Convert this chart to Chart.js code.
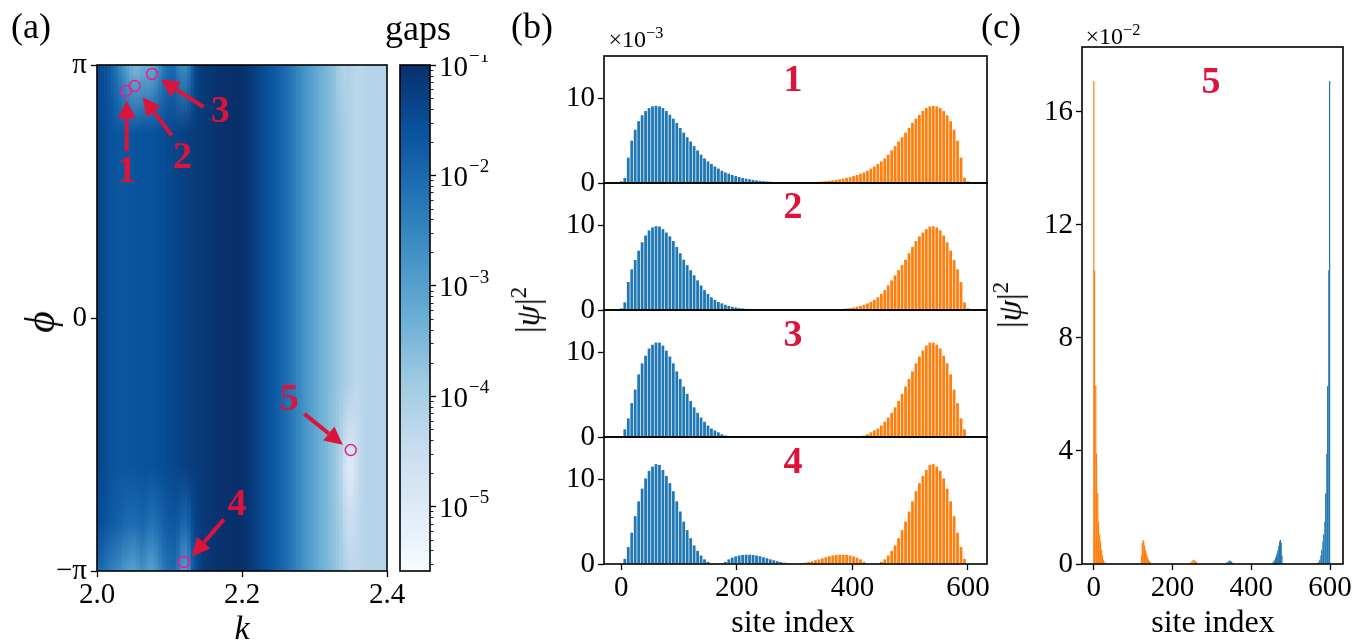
<!DOCTYPE html>
<html>
<head>
<meta charset="utf-8">
<script src="https://cdn.jsdelivr.net/npm/chart.js@4.4.1/dist/chart.umd.min.js"></script>
<style>
  html, body { margin: 0; padding: 0; background: #fff; }
  #fig { position: relative; width: 1369px; height: 644px; overflow: hidden;
         font-family: "Liberation Serif", serif; color: #000; }
  #fig canvas { position: absolute; }
  .t { position: absolute; white-space: nowrap; line-height: 1; transform: translate(-50%, -50%); }
  .rot { transform: translate(-50%, -50%) rotate(-90deg); }
  .num { font-weight: bold; font-size: 38px; color: #dc143c; }
  sup { font-size: 0.68em; vertical-align: 0.55em; line-height: 0; }
</style>
</head>
<body>
<div id="fig">
  <canvas id="heat" width="412" height="576" style="left:0px; top:40px"></canvas>
  <canvas id="cbar" width="105" height="526" style="left:395px; top:55px"></canvas>
  <canvas id="w1" width="478" height="177" style="left:534px; top:31px"></canvas>
  <canvas id="w2" width="478" height="177" style="left:534px; top:158px"></canvas>
  <canvas id="w3" width="478" height="177" style="left:534px; top:285px"></canvas>
  <canvas id="w4" width="478" height="197" style="left:534px; top:412px"></canvas>
  <canvas id="w5" width="356" height="587" style="left:1012px; top:22px"></canvas>

  <div class="t" style="left:31px; top:26px; font-size:36px">(a)</div>
  <div class="t" style="left:532px; top:26px; font-size:36px">(b)</div>
  <div class="t" style="left:1001px; top:26px; font-size:36px">(c)</div>
  <div class="t" style="left:418px; top:28px; font-size:36px">gaps</div>
  <div class="t rot" style="left:40px; top:322px; font-size:42px; font-style:italic">ϕ</div>
  <div class="t" style="left:242px; top:628px; font-size:34px; font-style:italic">k</div>
  <div class="t rot" style="left:528px; top:310px; font-size:34px">|<i>ψ</i>|<sup>2</sup></div>
  <div class="t rot" style="left:1010px; top:305px; font-size:34px">|<i>ψ</i>|<sup>2</sup></div>
  <div class="t" style="left:636px; top:39px; font-size:24px">×10<sup>−3</sup></div>
  <div class="t" style="left:1113px; top:36px; font-size:24px">×10<sup>−2</sup></div>
  <div class="t" style="left:793px; top:621px; font-size:32px">site index</div>
  <div class="t" style="left:1213px; top:621px; font-size:32px">site index</div>
  <div class="t num" style="left:793px; top:78px">1</div>
  <div class="t num" style="left:793px; top:205px">2</div>
  <div class="t num" style="left:793px; top:333px">3</div>
  <div class="t num" style="left:793px; top:460px">4</div>
  <div class="t num" style="left:1211px; top:80px">5</div>
</div>
<script>
// ---------- panel (a): spectral gap over (k, phi), log10 of the gap ----------
const kTicks = [2.0, 2.2, 2.4];
const phiTicks = [-Math.PI, 0, Math.PI];
const phiTickLabels = ['−π', '0', 'π'];
const kCenters = Array.from({ length: 80 }, (_, i) => 2.0 + 0.005 * (i + 0.5));
// phi rows at which the columns below are sampled
const phiKnots = [Math.PI, 2.3, -0.8, -1.85, -2.55, -Math.PI];

const logGapMid = [
  -1.40, -1.42, -1.48, -1.55, -1.62, -1.65, -1.66, -1.66, -1.65, -1.64,
  -1.62, -1.60, -1.60, -1.58, -1.57, -1.56, -1.55, -1.52, -1.50, -1.46,
  -1.42, -1.38, -1.35, -1.30, -1.27, -1.25, -1.22, -1.20, -1.18, -1.15,
  -1.12, -1.10, -1.08, -1.06, -1.04, -1.02, -1.01, -1.00, -1.00, -1.01,
  -1.03, -1.08, -1.15, -1.24, -1.33, -1.42, -1.50, -1.59, -1.68, -1.78,
  -1.88, -1.99, -2.10, -2.23, -2.36, -2.50, -2.63, -2.76, -2.89, -3.02,
  -3.15, -3.26, -3.37, -3.47, -3.57, -3.67, -3.77, -3.87, -3.97, -4.08,
  -4.18, -4.28, -4.30, -4.25, -4.21, -4.19, -4.19, -4.19, -4.19, -4.19
];
const logGapTop = [
  -1.45, -1.50, -1.60, -1.75, -1.95, -2.20, -2.50, -2.80, -3.10, -3.35,
  -3.50, -3.50, -3.35, -3.30, -3.30, -3.20, -2.90, -2.60, -2.30, -2.10,
  -2.00, -2.05, -2.40, -2.60, -2.60, -2.30, -1.80, -1.40, -1.25, -1.16,
  -1.12, -1.10, -1.08, -1.06, -1.04, -1.02, -1.01, -1.00, -1.00, -1.01,
  -1.03, -1.08, -1.15, -1.24, -1.33, -1.42, -1.50, -1.59, -1.68, -1.78,
  -1.88, -1.99, -2.10, -2.23, -2.36, -2.50, -2.63, -2.76, -2.89, -3.02,
  -3.15, -3.26, -3.37, -3.47, -3.57, -3.67, -3.90, -4.08, -4.18, -4.12,
  -4.18, -4.28, -4.30, -4.25, -4.21, -4.19, -4.19, -4.19, -4.19, -4.19
];
const logGapLow = [
  -1.40, -1.42, -1.48, -1.55, -1.62, -1.65, -1.66, -1.66, -1.65, -1.64,
  -1.62, -1.60, -1.60, -1.58, -1.57, -1.56, -1.55, -1.52, -1.50, -1.46,
  -1.42, -1.38, -1.35, -1.30, -1.27, -1.25, -1.22, -1.20, -1.18, -1.15,
  -1.12, -1.10, -1.08, -1.06, -1.04, -1.02, -1.01, -1.00, -1.00, -1.01,
  -1.03, -1.08, -1.15, -1.24, -1.33, -1.42, -1.50, -1.59, -1.68, -1.78,
  -1.88, -1.99, -2.10, -2.23, -2.36, -2.50, -2.63, -2.76, -2.89, -3.02,
  -3.15, -3.26, -3.37, -3.47, -3.62, -3.76, -3.95, -4.25, -4.65, -4.95,
  -4.95, -4.65, -4.40, -4.27, -4.21, -4.19, -4.19, -4.19, -4.19, -4.19
];
const logGapLower = [
  -1.50, -1.55, -1.62, -1.70, -1.76, -1.82, -1.88, -1.96, -2.02, -2.06,
  -2.06, -2.00, -1.95, -2.00, -2.12, -2.16, -2.08, -1.96, -1.85, -1.76,
  -1.72, -1.70, -1.76, -1.92, -1.96, -1.80, -1.50, -1.32, -1.23, -1.16,
  -1.12, -1.10, -1.08, -1.06, -1.04, -1.02, -1.01, -1.00, -1.00, -1.01,
  -1.03, -1.08, -1.15, -1.24, -1.33, -1.42, -1.50, -1.59, -1.68, -1.78,
  -1.88, -1.99, -2.10, -2.23, -2.36, -2.50, -2.63, -2.76, -2.89, -3.02,
  -3.15, -3.26, -3.37, -3.47, -3.59, -3.70, -3.84, -4.02, -4.30, -4.48,
  -4.50, -4.42, -4.32, -4.25, -4.21, -4.19, -4.19, -4.19, -4.19, -4.19
];
const logGapBottom = [
  -2.00, -2.05, -2.20, -2.35, -2.45, -2.55, -2.65, -2.80, -2.90, -3.00,
  -3.00, -2.85, -2.70, -2.80, -3.00, -3.00, -2.80, -2.55, -2.30, -2.15,
  -2.05, -2.05, -2.30, -2.80, -2.90, -2.55, -1.85, -1.50, -1.30, -1.18,
  -1.12, -1.10, -1.08, -1.06, -1.04, -1.02, -1.01, -1.00, -1.00, -1.01,
  -1.03, -1.08, -1.15, -1.24, -1.33, -1.42, -1.50, -1.59, -1.68, -1.78,
  -1.88, -1.99, -2.10, -2.23, -2.36, -2.50, -2.63, -2.76, -2.89, -3.02,
  -3.15, -3.26, -3.37, -3.47, -3.57, -3.67, -3.80, -3.95, -4.10, -4.22,
  -4.30, -4.32, -4.30, -4.25, -4.21, -4.19, -4.19, -4.19, -4.19, -4.19
];

// marked points and their arrows
const markNames = ['1', '2', '3', '4', '5'];
const markK = [2.040, 2.052, 2.076, 2.120, 2.350];
const markPhi = [2.82, 2.88, 3.03, -3.03, -1.64];
const nameK = [2.041, 2.118, 2.170, 2.193, 2.265];
const namePhi = [1.81, 1.99, 2.55, -2.33, -1.02];
const arrowFromK = [2.041, 2.103, 2.147, 2.175, 2.286];
const arrowFromPhi = [2.07, 2.27, 2.62, -2.50, -1.19];
const arrowToK = [2.041, 2.063, 2.088, 2.131, 2.339];
const arrowToPhi = [2.70, 2.74, 2.96, -2.96, -1.575];

// colour bar
const cbarMin = 2.6e-6, cbarMax = 1e-1;
const cbarTickValues = [1e-5, 1e-4, 1e-3, 1e-2, 1e-1];
const cbarTickExps = ['−5', '−4', '−3', '−2', '−1'];

// ---------- panel (b): |psi|^2 (x 1e-3), sampled every 6 sites ----------
const siteTicks = [0, 200, 400, 600];
const waveTicks = [0, 10];
const blueSites = Array.from({ length: 50 }, (_, i) => 6 * i);
const orangeSites = Array.from({ length: 50 }, (_, i) => 306 + 6 * i);

const blue1 = [0.2, 0.6, 3.0, 5.0, 6.3, 7.3, 8.0, 8.5, 8.85, 9.05, 9.1, 9.05, 8.85, 8.5, 8.05, 7.6, 7.1, 6.5, 5.95, 5.4,
  4.9, 4.35, 3.85, 3.35, 2.9, 2.55, 2.25, 1.95, 1.7, 1.45, 1.25, 1.1, 0.95, 0.82, 0.7, 0.6, 0.51, 0.44, 0.37, 0.31,
  0.26, 0.22, 0.18, 0.15, 0.12, 0.1, 0.08, 0.06, 0.04, 0.03];
const orange1 = [0.03, 0.04, 0.06, 0.08, 0.1, 0.12, 0.15, 0.18, 0.22, 0.26, 0.31, 0.37, 0.44, 0.51, 0.6, 0.7, 0.82, 0.95, 1.1, 1.25,
  1.45, 1.7, 1.95, 2.25, 2.55, 2.9, 3.35, 3.85, 4.35, 4.9, 5.4, 5.95, 6.5, 7.1, 7.6, 8.05, 8.5, 8.85, 9.05, 9.1,
  9.05, 8.85, 8.5, 8.0, 7.3, 6.3, 5.0, 3.0, 0.6, 0.2];
const blue2 = [0.2, 0.9, 3.3, 4.8, 5.9, 7.0, 8.0, 8.8, 9.4, 9.75, 9.9, 9.85, 9.55, 9.15, 8.7, 8.15, 7.45, 6.7, 5.95, 5.3,
  4.7, 4.1, 3.5, 2.9, 2.35, 1.9, 1.5, 1.2, 0.95, 0.78, 0.62, 0.48, 0.38, 0.3, 0.23, 0.18, 0.14, 0.1, 0.07, 0.04,
  0, 0, 0, 0, 0, 0, 0, 0, 0, 0];
const orange2 = [0, 0, 0, 0, 0, 0, 0, 0, 0, 0, 0.04, 0.07, 0.1, 0.14, 0.18, 0.23, 0.3, 0.38, 0.48, 0.62,
  0.78, 0.95, 1.2, 1.5, 1.9, 2.35, 2.9, 3.5, 4.1, 4.7, 5.3, 5.95, 6.7, 7.45, 8.15, 8.7, 9.15, 9.55, 9.85, 9.9,
  9.75, 9.4, 8.8, 8.0, 7.0, 5.9, 4.8, 3.3, 0.9, 0.2];
const blue3 = [0.1, 0.9, 2.2, 4.0, 5.6, 7.4, 8.7, 9.6, 10.45, 10.9, 11.15, 11.15, 10.8, 10.2, 9.5, 8.7, 7.75, 6.85, 5.95, 5.1,
  4.25, 3.5, 2.85, 2.3, 1.8, 1.35, 1.0, 0.78, 0.55, 0.32, 0.18, 0.08, 0, 0, 0, 0, 0, 0, 0, 0,
  0, 0, 0, 0, 0, 0, 0, 0, 0, 0];
const orange3 = [0, 0, 0, 0, 0, 0, 0, 0, 0, 0, 0, 0, 0, 0, 0, 0, 0, 0, 0.08, 0.18,
  0.32, 0.55, 0.78, 1.0, 1.35, 1.8, 2.3, 2.85, 3.5, 4.25, 5.1, 5.95, 6.85, 7.75, 8.7, 9.5, 10.2, 10.8, 11.15, 11.15,
  10.9, 10.45, 9.6, 8.7, 7.4, 5.6, 4.0, 2.2, 0.9, 0.1];
const blue4 = [0.1, 0.6, 2.0, 3.7, 5.65, 7.4, 8.9, 10.1, 11.0, 11.5, 11.8, 11.7, 11.1, 10.4, 9.55, 8.6, 7.4, 6.2, 5.0, 4.0,
  3.05, 2.2, 1.55, 1.0, 0.55, 0.25, 0.1, 0.04, 0.02, 0.08, 0.25, 0.55, 0.75, 0.9, 1.0, 1.07, 1.1, 1.1, 1.06, 1.0,
  0.92, 0.8, 0.68, 0.55, 0.44, 0.33, 0.24, 0.16, 0.1, 0.05];
const orange4 = [0.05, 0.1, 0.16, 0.24, 0.33, 0.44, 0.55, 0.68, 0.8, 0.92, 1.0, 1.06, 1.1, 1.1, 1.07, 1.0, 0.9, 0.75, 0.55, 0.25,
  0.08, 0.02, 0.04, 0.1, 0.25, 0.55, 1.0, 1.55, 2.2, 3.05, 4.0, 5.0, 6.2, 7.4, 8.6, 9.55, 10.4, 11.1, 11.7, 11.8,
  11.5, 11.0, 10.1, 8.9, 7.4, 5.65, 3.7, 2.0, 0.6, 0.1];

// ---------- panel (c): |psi|^2 (x 1e-2), point 5 ----------
const edgeTicks = [0, 4, 8, 12, 16];
const cOrangeSites = [0, 2, 5, 7, 10, 12, 15, 17, 20, 22, 25, 29,
  121, 123, 125, 127, 129, 131, 133, 135, 137, 139, 141, 143, 145, 148,
  246, 249, 252, 255, 258, 261, 264];
const cOrangeVals = [17.1, 10.4, 6.3, 3.9, 2.5, 1.5, 1.05, 0.8, 0.5, 0.3, 0.15, 0.06,
  0.3, 0.75, 0.85, 0.8, 0.65, 0.5, 0.4, 0.3, 0.22, 0.15, 0.1, 0.06, 0.04, 0.02,
  0.05, 0.1, 0.15, 0.14, 0.11, 0.07, 0.03];
const cBlueSites = [335, 338, 341, 344, 347, 350, 353, 356,
  452, 454, 456, 458, 460, 462, 464, 466, 468, 470, 472, 474, 476, 478,
  570, 574, 577, 579, 582, 584, 587, 589, 592, 594, 597, 599];
const cBlueVals = [0.02, 0.05, 0.09, 0.12, 0.11, 0.08, 0.04, 0.02,
  0.02, 0.04, 0.06, 0.1, 0.15, 0.22, 0.3, 0.4, 0.5, 0.65, 0.8, 0.85, 0.75, 0.3,
  0.06, 0.15, 0.3, 0.5, 0.8, 1.05, 1.5, 2.5, 3.9, 6.3, 10.4, 17.1];

// ---------- styling helpers ----------
const SERIF = 'Liberation Serif';
const BLUE = '#1f77b4', ORANGE = '#ff7f0e', CRIMSON = '#dc143c', PINK = '#f0198c';
const BLUES = [[247, 251, 255], [222, 235, 247], [198, 219, 239], [158, 202, 225], [107, 174, 214],
  [66, 146, 198], [33, 113, 181], [8, 81, 156], [8, 48, 107]];
const logMin = Math.log10(cbarMin), logMax = Math.log10(cbarMax);

function bluesAt(t) {
  t = Math.min(1, Math.max(0, t));
  const s = t * 8, i = Math.min(7, Math.floor(s)), f = s - i;
  const a = BLUES[i], b = BLUES[i + 1];
  return 'rgb(' + a.map((v, j) => Math.round(v + (b[j] - v) * f)).join(',') + ')';
}
function gapColor(lg) { return bluesAt((lg - logMin) / (logMax - logMin)); }

const tickGrid = { drawOnChartArea: false, drawTicks: true, tickLength: 6, tickColor: '#000', tickWidth: 1.3 };
const tickFont = { color: '#000', font: { family: SERIF, size: 29 }, padding: 3, autoSkip: false, maxRotation: 0 };
const noPlugins = { legend: { display: false }, tooltip: { enabled: false } };

const framePlugin = {
  id: 'frame',
  afterDraw(chart) {
    const a = chart.chartArea, ctx = chart.ctx;
    ctx.save();
    ctx.strokeStyle = '#000';
    ctx.lineWidth = 1.6;
    ctx.strokeRect(a.left, a.top, a.right - a.left, a.bottom - a.top);
    ctx.restore();
  }
};

// column fill: vertical gradient through the sampled phi rows
function columnFill(c) {
  const i = c.dataIndex, chart = c.chart;
  if (c.type !== 'data' || !chart.chartArea) return gapColor(logGapMid[i] || -2);
  const y = chart.scales.y;
  const g = chart.ctx.createLinearGradient(0, y.getPixelForValue(Math.PI), 0, y.getPixelForValue(-Math.PI));
  const rows = [logGapTop, logGapMid, logGapMid, logGapLow, logGapLower, logGapBottom];
  phiKnots.forEach((phi, r) => g.addColorStop((Math.PI - phi) / (2 * Math.PI), gapColor(rows[r][i])));
  return g;
}

const markPlugin = {
  id: 'marks',
  afterDatasetsDraw(chart) {
    const x = chart.scales.x, y = chart.scales.y, ctx = chart.ctx;
    ctx.save();
    markNames.forEach((name, i) => {
      const x0 = x.getPixelForValue(arrowFromK[i]), y0 = y.getPixelForValue(arrowFromPhi[i]);
      const x1 = x.getPixelForValue(arrowToK[i]), y1 = y.getPixelForValue(arrowToPhi[i]);
      const ang = Math.atan2(y1 - y0, x1 - x0), head = 18, half = 9;
      const bx = x1 - head * Math.cos(ang), by = y1 - head * Math.sin(ang);
      ctx.strokeStyle = CRIMSON;
      ctx.fillStyle = CRIMSON;
      ctx.lineWidth = 4;
      ctx.beginPath(); ctx.moveTo(x0, y0); ctx.lineTo(bx, by); ctx.stroke();
      ctx.beginPath();
      ctx.moveTo(x1, y1);
      ctx.lineTo(bx + half * Math.sin(ang), by - half * Math.cos(ang));
      ctx.lineTo(bx - half * Math.sin(ang), by + half * Math.cos(ang));
      ctx.closePath(); ctx.fill();
      ctx.font = 'bold 38px ' + SERIF;
      ctx.textAlign = 'center';
      ctx.textBaseline = 'middle';
      ctx.fillText(name, x.getPixelForValue(nameK[i]), y.getPixelForValue(namePhi[i]));
      ctx.strokeStyle = PINK;
      ctx.lineWidth = 1.5;
      ctx.beginPath();
      ctx.arc(x.getPixelForValue(markK[i]), y.getPixelForValue(markPhi[i]), 5.5, 0, 2 * Math.PI);
      ctx.stroke();
    });
    ctx.restore();
  }
};

// ---------- panel (a) chart ----------
new Chart(document.getElementById('heat'), {
  type: 'bar',
  data: {
    datasets: [{
      data: kCenters.map(k => ({ x: k, y: [-Math.PI, Math.PI] })),
      backgroundColor: columnFill,
      grouped: false, barThickness: 4, borderWidth: 0
    }]
  },
  options: {
    responsive: false, animation: false, events: [],
    layout: { padding: { top: 25, right: 25, left: 0, bottom: 0 } },
    plugins: noPlugins,
    scales: {
      x: {
        type: 'linear', min: 2.0, max: 2.4, offset: false,
        afterBuildTicks: ax => { ax.ticks = kTicks.map(value => ({ value })); },
        afterFit: ax => { ax.height = 45; },
        grid: { ...tickGrid, offset: false }, border: { display: false },
        ticks: { ...tickFont, padding: 1, callback: v => v.toFixed(1) }
      },
      y: {
        type: 'linear', min: -Math.PI, max: Math.PI,
        afterBuildTicks: ax => { ax.ticks = phiTicks.map(value => ({ value })); },
        afterFit: ax => { ax.width = 97; },
        grid: tickGrid, border: { display: false },
        ticks: { ...tickFont, padding: 4, callback: (v, i) => phiTickLabels[i] }
      }
    }
  },
  plugins: [framePlugin, markPlugin]
});

// ---------- colour bar ----------
const cbarPlugin = {
  id: 'cbarLabels',
  afterDraw(chart) {
    const y = chart.scales.y, a = chart.chartArea, ctx = chart.ctx;
    ctx.save();
    ctx.strokeStyle = '#000';
    ctx.lineWidth = 0.9;
    for (let e = -6; e <= -2; e++) {
      for (let m = 2; m <= 9; m++) {
        const v = m * Math.pow(10, e);
        if (v < cbarMin || v > cbarMax) continue;
        const py = Math.round(y.getPixelForValue(v)) + 0.5;
        ctx.beginPath(); ctx.moveTo(a.right, py); ctx.lineTo(a.right + 3.5, py); ctx.stroke();
      }
    }
    ctx.fillStyle = '#000';
    ctx.textBaseline = 'middle';
    ctx.textAlign = 'left';
    cbarTickValues.forEach((v, i) => {
      const py = y.getPixelForValue(v), px = a.right + 9;
      ctx.font = '29px ' + SERIF;
      ctx.fillText('10', px, py + 3);
      const w = ctx.measureText('10').width;
      ctx.font = '19px ' + SERIF;
      ctx.fillText(cbarTickExps[i], px + w + 1, py - 8);
    });
    ctx.restore();
  }
};

new Chart(document.getElementById('cbar'), {
  type: 'bar',
  data: {
    labels: ['gaps'],
    datasets: [{
      data: [[cbarMin, cbarMax]],
      backgroundColor: c => {
        const ch = c.chart;
        if (!ch.chartArea) return gapColor(-3);
        const y = ch.scales.y;
        const g = ch.ctx.createLinearGradient(0, y.getPixelForValue(cbarMin), 0, y.getPixelForValue(cbarMax));
        BLUES.forEach((rgb, i) => g.addColorStop(i / 8, 'rgb(' + rgb.join(',') + ')'));
        return g;
      },
      barPercentage: 1, categoryPercentage: 1, borderWidth: 0
    }]
  },
  options: {
    responsive: false, animation: false, events: [],
    layout: { padding: { top: 10, right: 0, left: 5, bottom: 10 } },
    plugins: noPlugins,
    scales: {
      x: { display: false },
      y: {
        type: 'logarithmic', position: 'right', min: cbarMin, max: cbarMax,
        afterBuildTicks: ax => { ax.ticks = cbarTickValues.map(value => ({ value })); },
        afterFit: ax => { ax.width = 70; },
        grid: tickGrid, border: { display: false },
        ticks: { ...tickFont, display: false }
      }
    }
  },
  plugins: [framePlugin, cbarPlugin]
});

// ---------- wavefunction panels ----------
function waveChart(id, o) {
  return new Chart(document.getElementById(id), {
    type: 'bar',
    data: {
      datasets: [
        { data: o.blueX.map((x, i) => ({ x, y: o.blueY[i] })), backgroundColor: BLUE, ...o.bar },
        { data: o.orangeX.map((x, i) => ({ x, y: o.orangeY[i] })), backgroundColor: ORANGE, ...o.bar }
      ]
    },
    options: {
      responsive: false, animation: false, events: [],
      layout: { padding: o.padding },
      plugins: noPlugins,
      scales: {
        x: {
          type: 'linear', display: o.showX, min: -30, max: 633, offset: false,
          afterBuildTicks: ax => { ax.ticks = siteTicks.map(value => ({ value })); },
          afterFit: ax => { if (o.showX) ax.height = 45; },
          grid: { ...tickGrid, offset: false }, border: { display: false },
          ticks: { ...tickFont, padding: 1 }
        },
        y: {
          min: 0, max: o.ymax,
          afterBuildTicks: ax => { ax.ticks = o.yTicks.map(value => ({ value })); },
          afterFit: ax => { ax.width = 70; },
          grid: tickGrid, border: { display: false }, ticks: tickFont
        }
      }
    },
    plugins: [framePlugin]
  });
}

const stripedBars = { grouped: false, borderWidth: 0, barPercentage: 0.8, categoryPercentage: 1, inflateAmount: 0 };
const waveBlue = [blue1, blue2, blue3, blue4];
const waveOrange = [orange1, orange2, orange3, orange4];
['w1', 'w2', 'w3', 'w4'].forEach((id, j) => {
  const last = j === 3;
  waveChart(id, {
    blueX: blueSites, blueY: waveBlue[j], orangeX: orangeSites, orangeY: waveOrange[j],
    bar: stripedBars, showX: last, ymax: 15, yTicks: waveTicks,
    padding: { top: 25, right: 25, left: 0, bottom: last ? 0 : 25 }
  });
});

waveChart('w5', {
  blueX: cBlueSites, blueY: cBlueVals, orangeX: cOrangeSites, orangeY: cOrangeVals,
  bar: { grouped: false, borderWidth: 0, barThickness: 1.2, inflateAmount: 0 },
  showX: true, ymax: 18.3, yTicks: edgeTicks,
  padding: { top: 25, right: 25, left: 0, bottom: 0 }
});
</script>
</body>
</html>
